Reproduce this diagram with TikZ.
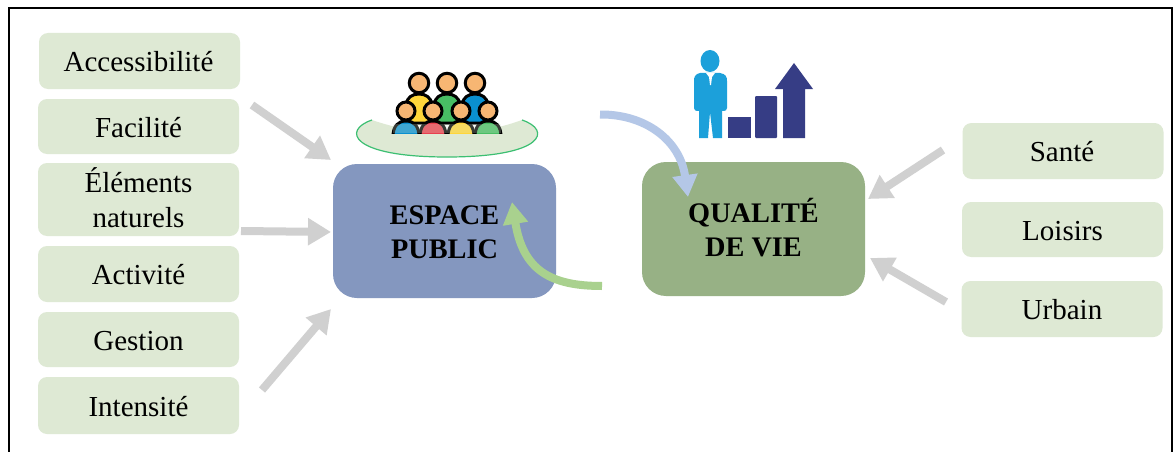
\documentclass[tikz,border=0pt]{standalone}
\usepackage{fontspec}
\setmainfont{Liberation Serif}
\usetikzlibrary{arrows.meta}
\definecolor{pale}{HTML}{DEE9D4}
\definecolor{bluebox}{HTML}{8497BF}
\definecolor{greenbox}{HTML}{97B185}
\definecolor{arrowgrey}{HTML}{D0D0D0}
\definecolor{arrowblue}{HTML}{B4C7E7}
\definecolor{arrowgreen}{HTML}{A9D18E}
\definecolor{navy}{HTML}{363D85}
\definecolor{manblue}{HTML}{1CA0DA}
\definecolor{faceor}{HTML}{F7B673}
\definecolor{pyellow}{HTML}{FFD63A}
\definecolor{pgreen}{HTML}{48BE64}
\definecolor{pblue}{HTML}{0A90D0}
\definecolor{pred}{HTML}{E8404F}
\definecolor{rimgreen}{HTML}{3CBF72}
\newcommand{\itemstrut}{\rule[-5pt]{0pt}{31pt}}
\newcommand{\mainstrut}{\rule[-4.2pt]{0pt}{29.2pt}}
\tikzset{
 x=1pt,y=-1pt,
 itembox/.style={fill=pale,rounded corners=9pt,minimum width=201pt,anchor=center,align=center,font=\fontsize{29}{35.6}\selectfont,inner sep=0pt},
 mainbox/.style={rounded corners=24pt,minimum width=223pt,minimum height=134pt,align=center,font=\bfseries\fontsize{28.3}{34}\selectfont,inner sep=0pt},
 greyarrow/.style={draw=arrowgrey,line width=8pt,-{Triangle[length=23pt,width=26pt]}},
 bendarrow/.style={line width=8pt,-{Triangle[length=22pt,width=24pt]}},
 head/.style={fill=faceor,draw=black,line width=3pt},
 body/.style={fill=#1,draw=black,line width=3pt},
}
\newcommand{\backperson}[3]{%
 \draw[body=#3] (#1-13,#2+40) .. controls (#1-16,#2+25) and (#1-14,#2+11) .. (#1,#2+11) .. controls (#1+14,#2+11) and (#1+16,#2+25) .. (#1+13,#2+40) -- cycle;
 \draw[head] (#1,#2) circle (9.75);}
\newcommand{\frontperson}[3]{%
 \begin{scope}
 \clip (#1-16,#2-12) rectangle (#1+16,#2+22);
 \draw[body=#3] (#1-13,#2+26) .. controls (#1-13,#2+15) and (#1-8,#2+10) .. (#1,#2+10) .. controls (#1+8,#2+10) and (#1+13,#2+15) .. (#1+13,#2+26) -- cycle;
 \end{scope}
 \draw[head] (#1,#2) circle (9);}
\begin{document}
\begin{tikzpicture}
\useasboundingbox (0,0) rectangle (1175,452);
\fill[white] (0,0) rectangle (1175,452);
\coordinate (fbl) at (9,452);\coordinate (ftl) at (9,8);\coordinate (ftr) at (1172,8);\coordinate (fbr) at (1172,452);
\draw[black,line width=2pt] (fbl) -- (ftl) -- (ftr) -- (fbr);

% left items
\node[itembox,minimum height=56pt] (acc) at (139.5,61) {\itemstrut\hspace*{-2pt}Accessibilité};
\node[itembox,minimum height=55pt] (fac) at (138.5,126.5) {\itemstrut Facilité};
\node[itembox,minimum height=73pt] (ele) at (138.5,199.5) {\itemstrut Éléments\\\itemstrut naturels};
\node[itembox,minimum height=56pt] (act) at (138.5,274) {\itemstrut Activité};
\node[itembox,minimum height=55pt] (ges) at (138.5,339.5) {\itemstrut Gestion};
\node[itembox,minimum height=57pt] (int) at (138.5,405.5) {\itemstrut Intensité};
% right items
\node[itembox,minimum height=56pt] (san) at (1063,151) {\itemstrut\hspace*{-2pt}Santé};
\node[itembox,minimum height=55pt] (loi) at (1062.5,229.5) {\itemstrut Loisirs};
\node[itembox,minimum height=56pt] (urb) at (1062,309) {\itemstrut Urbain};
% main
\node[mainbox,fill=bluebox] (esp) at (444.5,231) {\mainstrut ESPACE\\\mainstrut PUBLIC};
\node[mainbox,fill=greenbox] (qua) at (753.5,229) {\mainstrut QUALITÉ\\\mainstrut DE VIE};

% grey arrows
\coordinate (a1) at (252,105);\coordinate (a1e) at (331,160);
\coordinate (a2) at (241,231);\coordinate (a2e) at (331,232);
\coordinate (a3) at (262,390);\coordinate (a3e) at (331,309);
\coordinate (b1) at (943,150);\coordinate (b1e) at (868,199);
\coordinate (b2) at (946,302);\coordinate (b2e) at (870,258);
\draw[greyarrow] (a1) -- (a1e);
\draw[greyarrow] (a2) -- (a2e);
\draw[greyarrow] (a3) -- (a3e);
\draw[greyarrow] (b1) -- (b1e);
\draw[greyarrow] (b2) -- (b2e);

% curved arrows
\coordinate (c1) at (600,114.5);\coordinate (c1e) at (688,197);
\coordinate (c2) at (602,286);\coordinate (c2e) at (512,202);
\draw[bendarrow,draw=arrowblue] (c1) .. controls (645,114) and (680,140) .. (c1e);
\draw[bendarrow,draw=arrowgreen] (c2) .. controls (550,286) and (523,270) .. (c2e);

% crowd
\fill[pale] (372,120) .. controls (395,128) and (420,133) .. (447,133) .. controls (475,133) and (500,128) .. (522,120) .. controls (552,130) and (545,157) .. (447,157) .. controls (350,157) and (342,130) .. (372,120) -- cycle;
\draw[rimgreen,line width=1.2pt] (372,120) .. controls (342,130) and (350,157) .. (447,157) .. controls (545,157) and (552,130) .. (522,120);
\backperson{419}{83}{pyellow}
\backperson{447}{83}{pgreen}
\backperson{475}{83}{pblue}
\frontperson{406}{111}{pblue}
\frontperson{433}{111}{pred}
\frontperson{461}{111}{pyellow}
\frontperson{488}{111}{pgreen}
\fill[pale,opacity=.25] (393,124) rectangle (501,133);

% man
\fill[manblue] (710,61) ellipse (9.5 and 11);
\fill[manblue] (700,73) .. controls (695,74) and (694,77) .. (694,81) -- (694,108) .. controls (694,110) and (695,111) .. (699,111) -- (699,138) -- (708,138) -- (710,112) -- (713,138) -- (722,138) -- (722,111) .. controls (726,111) and (727,110) .. (727,108) -- (727,81) .. controls (727,77) and (726,74) .. (720,73) -- cycle;
\fill[white] (706,73) -- (715,73) -- (712,77) -- (711,85) -- (710,85) -- (709,77) -- cycle;
\fill[navy] (728,117) rectangle (751,138);
\fill[navy,rounded corners=1pt] (755,96) rectangle (777,138);
\fill[navy] (783,138) -- (783,89) -- (775,89) -- (794,63) -- (813,89) -- (805,89) -- (805,138) -- cycle;
\end{tikzpicture}
\end{document}
